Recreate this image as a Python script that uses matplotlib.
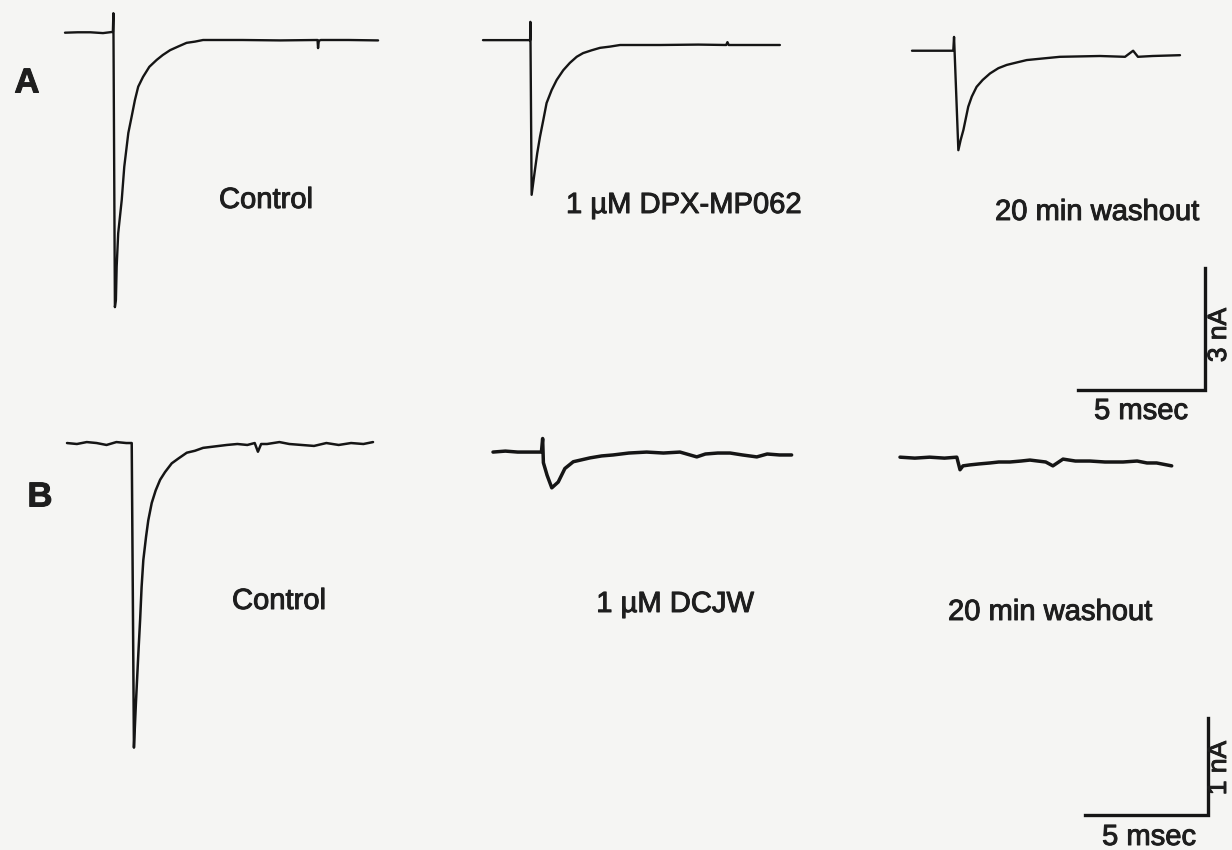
import matplotlib
matplotlib.use("Agg")
import matplotlib.pyplot as plt
import matplotlib.patheffects as pe

plt.rcParams['font.family'] = ['Liberation Sans', 'DejaVu Sans']

W, H = 1232, 850
BG = '#f5f5f3'
INK = '#151515'

# Row A: current traces, time in ms, current in nA (relative to post-stimulus baseline)
CTRL_A_T = [0.0, 0.5, 1.0, 1.5, 1.89, 1.91, 1.97, 2.01, 2.04, 2.10, 2.24, 2.34, 2.50, 2.63, 2.76,
            2.89, 3.08, 3.33, 3.62, 3.86, 4.15, 4.47, 4.80, 5.13, 5.45, 7.0, 8.5, 9.97, 9.99,
            10.02, 10.1, 11.2, 12.36]
CTRL_A_I = [0.18, 0.19, 0.19, 0.17, 0.20, 0.66, -6.58, -6.40, -5.58, -4.76, -3.94, -3.12, -2.29, -1.89, -1.48,
            -1.15, -0.91, -0.66, -0.49, -0.37, -0.25, -0.16, -0.07, -0.04, 0.0, 0.0, -0.01, 0.0, -0.20,
            -0.02, 0.0, 0.0, -0.01]

DPX_T = [0.0, 0.8, 1.86, 1.87, 1.92, 2.05, 2.14, 2.25, 2.38, 2.51, 2.71, 2.91, 3.17, 3.43, 3.70,
         3.95, 4.29, 4.62, 5.01, 5.41, 7.0, 8.5, 9.6, 9.65, 9.7, 11.72]
DPX_I = [0.12, 0.12, 0.12, 0.57, -3.69, -3.08, -2.67, -2.26, -1.85, -1.43, -1.11, -0.86, -0.62, -0.44, -0.29,
         -0.20, -0.13, -0.07, -0.04, 0.0, 0.0, 0.01, 0.0, 0.07, 0.0, 0.0]

WASH_A_T = [0.0, 0.8, 1.63, 1.66, 1.83, 1.92, 2.03, 2.22, 2.36, 2.55, 2.79, 3.08, 3.41, 3.74, 4.13,
            4.53, 5.18, 5.84, 7.42, 8.41, 8.73, 8.92, 9.5, 10.58]
WASH_A_I = [0.13, 0.13, 0.13, 0.47, -2.32, -2.07, -1.82, -1.25, -1.00, -0.76, -0.59, -0.43, -0.30, -0.22, -0.16,
            -0.10, -0.06, -0.02, 0.0, -0.02, 0.13, -0.02, 0.0, 0.02]

# Row B
CTRL_B_T = [0.0, 0.4, 0.8, 1.2, 1.6, 2.0, 2.4, 2.62, 2.71, 2.79, 2.89, 2.96, 3.02, 3.09, 3.20,
            3.29, 3.43, 3.59, 3.77, 3.97, 4.24, 4.51, 4.85, 5.18, 5.51, 6.47, 6.9, 7.3, 7.6, 7.73,
            7.86, 8.1, 8.6, 9.0, 9.5, 10.0, 10.5, 11.0, 11.5, 12.0, 12.39]
CTRL_B_I = [0.01, 0.0, 0.02, 0.01, -0.01, 0.02, 0.01, 0.01, -3.14, -2.68, -2.16, -1.82, -1.48, -1.20, -0.96,
            -0.79, -0.61, -0.48, -0.37, -0.29, -0.20, -0.15, -0.09, -0.07, -0.04, -0.01, 0.0, -0.01, 0.01, -0.08,
            0.0, 0.0, 0.02, 0.0, -0.01, -0.02, 0.01, -0.01, 0.01, 0.0, 0.02]

DCJW_T = [0.0, 0.5, 1.0, 1.51, 1.96, 2.01, 2.04, 2.19, 2.38, 2.64, 2.91, 3.25, 3.93, 4.4, 4.86,
          5.5, 6.22, 6.9, 7.57, 8.25, 8.6, 9.1, 9.60, 10.1, 10.68, 11.1, 11.6, 12.09]
DCJW_I = [0.02, 0.03, 0.02, 0.02, 0.02, 0.16, -0.09, -0.22, -0.35, -0.29, -0.15, -0.08, -0.04, -0.02, -0.01,
          0.01, 0.02, 0.01, 0.02, -0.03, 0.0, 0.01, 0.01, -0.01, -0.03, 0.0, -0.01, -0.01]

WASH_B_T = [0.0, 0.6, 1.2, 1.8, 2.30, 2.43, 2.55, 2.83, 3.2, 3.64, 4.0, 4.45, 4.9, 5.26, 5.9,
            6.19, 6.60, 7.1, 7.69, 8.3, 9.03, 9.6, 10.0, 10.39, 11.0]
WASH_B_I = [0.05, 0.04, 0.05, 0.04, 0.05, -0.08, -0.04, -0.03, -0.02, -0.01, 0.0, 0.0, 0.01, 0.02, 0.0,
            -0.04, 0.03, 0.01, 0.01, 0.0, 0.0, 0.01, -0.01, -0.01, -0.04]

LABELS_A = ['Control', '1 \u00b5M DPX-MP062', '20 min washout']
LABELS_B = ['Control', '1 \u00b5M DCJW', '20 min washout']
SCALE_A = (5, 3)   # ms, nA
SCALE_B = (5, 1)

# pixel scale of each row (px per ms, px per nA)
PX_MS_A, PX_NA_A = 25.33, 40.6
PX_MS_B, PX_NA_B = 24.7, 96.7

fig = plt.figure(figsize=(W / 100, H / 100), dpi=100, facecolor=BG)


def row_axes(top_px, px_ms, px_na):
    ax = fig.add_axes([0, 1 - (top_px + H / 2) / H, 1, 0.5])
    ax.set_xlim(0, W / px_ms)
    ax.set_ylim(-(H / 2) / px_na, 0)
    ax.axis('off')
    return ax


def trace(ax, t, i, x0, y0, top_px, px_ms, px_na, lw):
    # x0, y0: left edge and baseline of the sweep in pixels
    ax.plot([v + x0 / px_ms for v in t], [v - (y0 - top_px) / px_na for v in i],
            color=INK, lw=lw, solid_joinstyle='round', solid_capstyle='round')


def scale_bar(ax, corner, size, top_px, px_ms, px_na):
    cx = corner[0] / px_ms
    cy = -(corner[1] - top_px) / px_na
    ax.plot([cx - size[0], cx, cx], [cy, cy, cy + size[1]], color=INK, lw=2.4,
            solid_joinstyle='miter')


axA = row_axes(0, PX_MS_A, PX_NA_A)
trace(axA, CTRL_A_T, CTRL_A_I, 65, 40, 0, PX_MS_A, PX_NA_A, 1.7)
trace(axA, DPX_T, DPX_I, 483, 45, 0, PX_MS_A, PX_NA_A, 1.7)
trace(axA, WASH_A_T, WASH_A_I, 912, 56, 0, PX_MS_A, PX_NA_A, 1.7)
scale_bar(axA, (1205, 390), SCALE_A, 0, PX_MS_A, PX_NA_A)

axB = row_axes(H / 2, PX_MS_B, PX_NA_B)
trace(axB, CTRL_B_T, CTRL_B_I, 67, 444, H / 2, PX_MS_B, PX_NA_B, 1.8)
trace(axB, DCJW_T, DCJW_I, 493, 454, H / 2, PX_MS_B, PX_NA_B, 2.5)
trace(axB, WASH_B_T, WASH_B_I, 900, 462, H / 2, PX_MS_B, PX_NA_B, 2.5)
scale_bar(axB, (1208, 815), SCALE_B, H / 2, PX_MS_B, PX_NA_B)

heavy = [pe.withStroke(linewidth=0.7, foreground='#1e1e1e')]


def txt(x, y, s, **kw):
    fig.text(x / W, 1 - y / H, s, color='#1e1e1e', path_effects=heavy, **kw)


fs = 21
txt(27, 83, 'A', fontsize=25, fontweight='bold', ha='center', va='center')
txt(40, 497, 'B', fontsize=25, fontweight='bold', ha='center', va='center')

txt(266, 208, LABELS_A[0], fontsize=fs, ha='center', va='baseline')
txt(566, 213, LABELS_A[1], fontsize=fs, ha='left', va='baseline')
txt(995, 220, LABELS_A[2], fontsize=fs, ha='left', va='baseline')

txt(279, 609, LABELS_B[0], fontsize=fs, ha='center', va='baseline')
txt(675, 612, LABELS_B[1], fontsize=fs, ha='center', va='baseline')
txt(948, 620, LABELS_B[2], fontsize=fs, ha='left', va='baseline')

txt(1141, 419, '%d msec' % SCALE_A[0], fontsize=fs, ha='center', va='baseline')
txt(1231, 335, '%d nA' % SCALE_A[1], fontsize=19, ha='right', va='center', rotation=90)
txt(1149, 845, '%d msec' % SCALE_B[0], fontsize=fs, ha='center', va='baseline')
txt(1231, 768, '%d nA' % SCALE_B[1], fontsize=19, ha='right', va='center', rotation=90)

fig.savefig('out.png', dpi=100, facecolor=BG)
